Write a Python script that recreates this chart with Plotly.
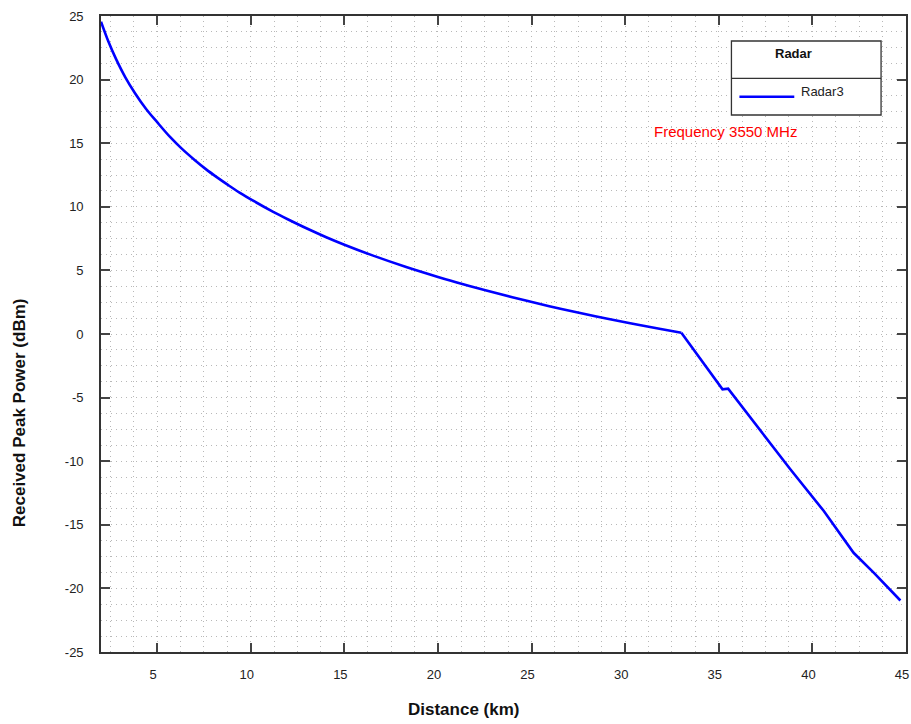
import plotly.graph_objects as go

# Data
# smooth free-space part (up to the break point near 33 km)
distance_near_km = [2.0, 2.4, 2.8, 3.3, 3.8, 4.4, 5.0, 5.7, 6.3, 7.0, 7.6, 8.2, 8.8, 9.4,
                    10.2, 11.2, 12.0, 13.0, 14.0, 15.0, 16.5, 18.3, 20.0, 21.3, 23.1, 24.8,
                    26.6, 28.4, 30.2, 31.9, 33.0]
power_near_dbm = [24.55, 22.97, 21.63, 20.18, 18.97, 17.71, 16.65, 15.47, 14.59, 13.68, 12.96,
                  12.31, 11.70, 11.12, 10.42, 9.60, 9.00, 8.29, 7.63, 7.02, 6.18, 5.27, 4.49,
                  3.93, 3.22, 2.59, 1.97, 1.40, 0.87, 0.40, 0.10]
# beyond the break point
distance_far_km = [33.0, 35.2, 35.5, 37.1, 38.8, 40.6, 42.2, 43.3, 44.7]
power_far_dbm = [0.10, -4.35, -4.3, -7.4, -10.6, -13.9, -17.2, -18.8, -20.95]

x_tick_vals = [5, 10, 15, 20, 25, 30, 35, 40, 45]
x_tick_text = ["5", "10", "15", "20", "25", "30", "35", "40", "45"]
y_tick_vals = [-25, -20, -15, -10, -5, 0, 5, 10, 15, 20, 25]
y_tick_text = ["-25", "-20", "-15", "-10", "-5", "0", "5", "10", "15", "20", "25"]

series_name = "Radar3"
legend_title = "Radar"
note_text = "Frequency 3550 MHz"
x_title = "Distance (km)"
y_title = "Received Peak Power (dBm)"

W, H = 911, 724
L, R, T, B = 101, 3, 16, 72
pw = W - L - R
ph = H - T - B

def px(x):
    return (x - L) / pw

def py(y):
    return (H - B - y) / ph

fig = go.Figure()
fig.add_trace(go.Scatter(x=distance_near_km, y=power_near_dbm, mode="lines", name=series_name,
                         legendgroup="r3", line=dict(color="#0000ff", width=2.6, shape="spline",
                                                     smoothing=1.0),
                         showlegend=False))
fig.add_trace(go.Scatter(x=distance_far_km, y=power_far_dbm, mode="lines", name=series_name,
                         legendgroup="r3", line=dict(color="#0000ff", width=2.6),
                         showlegend=False))

font = "Liberation Sans, Arial, sans-serif"
axis_common = dict(
    showline=True, linecolor="#333333", linewidth=1.6, mirror="ticks",
    ticks="inside", ticklen=9, tickwidth=1.6, tickcolor="#444444",
    tickfont=dict(family=font, size=13, color="#222222"),
    zeroline=False, tickmode="array",
    showgrid=True, gridcolor="#b8b8b8", gridwidth=1, griddash="1px,4px",
)
minor_common = dict(showgrid=True, gridcolor="#b8b8b8", griddash="1px,4px", gridwidth=1, ticks="")
fig.update_xaxes(range=[2, 45], tickvals=x_tick_vals, ticktext=x_tick_text,
                 ticklabelstandoff=10, ticklabelshift=-4,
                 minor=dict(dtick=1.25, tick0=0, tickmode="linear", **minor_common),
                 **axis_common)
fig.update_yaxes(range=[-25, 25], tickvals=y_tick_vals, ticktext=y_tick_text,
                 ticklabelstandoff=13,
                 minor=dict(dtick=1.25, tick0=-25, tickmode="linear", **minor_common),
                 **axis_common)

shapes = [
    dict(type="rect", xref="paper", yref="paper", x0=px(733), x1=px(883), y0=py(115), y1=py(41),
         line=dict(color="#333333", width=1.3), fillcolor="white", layer="above"),
    dict(type="line", xref="paper", yref="paper", x0=px(733), x1=px(883), y0=py(78.3), y1=py(78.3),
         line=dict(color="#333333", width=1.3), layer="above"),
    dict(type="line", xref="paper", yref="paper", x0=px(741), x1=px(796), y0=py(96.7), y1=py(96.7),
         line=dict(color="#0000ff", width=2.6), layer="above"),
]
annotations = [
    dict(text="<b>" + legend_title + "</b>", xref="paper", yref="paper", x=px(795), y=py(54),
         showarrow=False, font=dict(family=font, size=13, color="#111111"),
         xanchor="center", yanchor="middle"),
    dict(text=series_name, xref="paper", yref="paper", x=px(801), y=py(91),
         showarrow=False, font=dict(family=font, size=13, color="#222222"),
         xanchor="left", yanchor="middle"),
    dict(text=note_text, xref="paper", yref="paper", x=px(727), y=py(132),
         showarrow=False, font=dict(family=font, size=15, color="#ff0000"),
         xanchor="center", yanchor="middle"),
    dict(text="<b>" + x_title + "</b>", xref="paper", yref="paper", x=px(464), y=py(709),
         showarrow=False, font=dict(family=font, size=17, color="#111111"),
         xanchor="center", yanchor="middle"),
    dict(text="<b>" + y_title + "</b>", xref="paper", yref="paper", x=px(19), y=py(413),
         showarrow=False, textangle=-90, font=dict(family=font, size=17, color="#111111"),
         xanchor="center", yanchor="middle"),
]

fig.update_layout(
    width=W, height=H, margin=dict(l=L, r=R, t=T, b=B),
    paper_bgcolor="white", plot_bgcolor="white",
    shapes=shapes, annotations=annotations, showlegend=False,
)
fig.write_html("out.html")
